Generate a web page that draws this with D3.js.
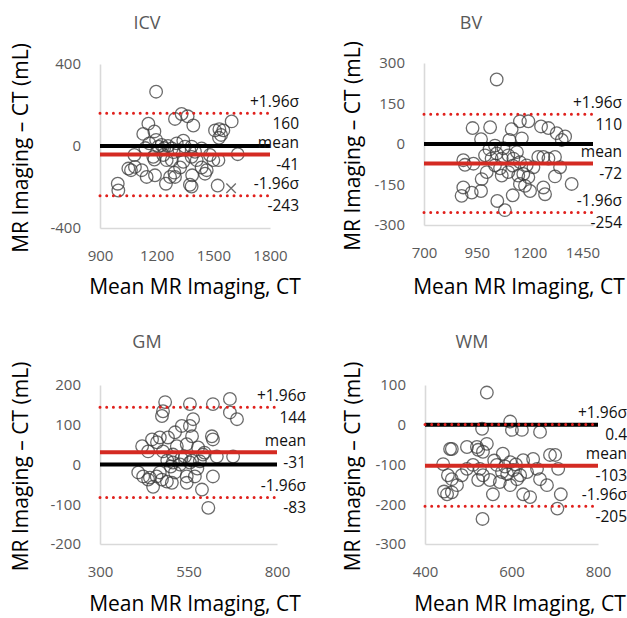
<!DOCTYPE html>
<html>
<head>
<meta charset="utf-8">
<script src="https://cdn.jsdelivr.net/npm/d3@7"></script>
<style>
  body { margin: 0; background: #fff; }
  svg { display: block; font-family: "Open Sans", sans-serif; }
</style>
</head>
<body>
<div id="chart"></div>
<script>
// Bland-Altman data: [mean of MR + CT, MR - CT] in mL
const icvPoints = [[1197,265],[1297,132],[1332,156],[1364,145],[1394,100],[1156,109],[1129,59],[1188,71],[1197,30],[1161,13],
  [1182,-53],[1188,-66],[1082,-44],[1050,-110],[1064,-118],[1121,-118],[1147,-151],[1191,-143],[1249,-184],[1271,-151],
  [1294,-130],[1297,-151],[1280,-69],[1306,13],[1341,26],[1350,-3],[1385,-3],[1403,-28],[1385,-53],[1412,-69],
  [1388,-143],[1385,-198],[1376,-189],[1324,-105],[1341,-77],[1438,-105],[1456,-135],[1482,-44],[1500,-69],[1527,-69],
  [1523,-193],[1509,76],[1532,82],[1553,76],[1541,54],[1597,120],[1629,-40],[994,-184],[997,-217],[1235,-44],
  [1253,-69],[1209,-3],[1226,5],[1280,-12],[1085,-102],[1438,-12],[1465,-118],[1260,0],[1240,-10],[1320,-20],
  [1290,-30],[1140,-10],[1530,40]]
const icvCross = [[1594,-206]]
const bvPoints = [[1044,239],[930,59],[1013,62],[970,18],[1115,55],[1154,84],[1194,84],[1163,21],[1104,15],[1254,65],
  [1289,59],[1328,40],[1368,28],[1352,15],[1076,-16],[1036,-6],[886,-60],[894,-77],[934,-73],[989,-42],
  [1020,-54],[1044,-35],[1068,-54],[1099,-42],[1123,-54],[1154,-67],[1186,-79],[1170,-111],[1146,-117],[1154,-148],
  [1178,-155],[1194,-123],[1241,-48],[1265,-48],[1289,-54],[1320,-48],[1344,-86],[1320,-120],[1399,-148],[1265,-161],
  [1273,-186],[1202,-174],[1120,-190],[1047,-211],[1083,-245],[970,-174],[926,-180],[886,-161],[878,-192],[973,-130],
  [997,-104],[1068,-117],[1099,-104],[1036,-79],[1218,-86],[1120,-80],[1060,-90],[1140,-30],[1010,-20]]
const gmPoints = [[484,157],[554,152],[619,152],[667,165],[478,134],[475,122],[667,131],[687,114],[563,114],[554,97],
  [531,97],[512,81],[492,68],[469,68],[447,63],[461,56],[560,71],[577,43],[616,71],[619,63],
  [517,46],[545,51],[419,46],[436,33],[478,33],[506,25],[540,20],[591,25],[630,20],[676,20],
  [506,5],[526,0],[554,5],[582,8],[408,-20],[422,-30],[436,-38],[450,-56],[469,-20],[489,-43],
  [512,-20],[545,-30],[568,-30],[545,-46],[588,-63],[619,-30],[606,-109],[530,15],[560,10],[500,-5],
  [575,-10],[490,10],[460,-30],[595,30],[441,-33],[475,-38],[503,-46]]
const wmPoints = [[543,81],[532,-10],[597,8],[601,-13],[624,-13],[666,-18],[458,-61],[462,-61],[497,-56],[520,-56],
  [523,-63],[543,-48],[534,-68],[442,-99],[453,-127],[462,-137],[444,-168],[451,-175],[462,-170],[474,-152],
  [485,-127],[497,-111],[511,-101],[527,-111],[534,-127],[523,-139],[550,-139],[557,-175],[566,-101],[578,-119],
  [580,-73],[597,-94],[590,-124],[604,-114],[613,-137],[620,-127],[627,-89],[636,-119],[627,-175],[643,-182],
  [650,-86],[659,-111],[666,-137],[682,-152],[689,-76],[701,-76],[708,-111],[714,-175],[706,-211],[533,-237],
  [573,-144],[597,-152],[560,-90],[585,-105],[610,-100]]

// reference lines: upper limit, mean, lower limit
const icvLines = [160, -41, -243]
const bvLines = [110, -72, -254]
const gmLines = [144, 31, -83]
const wmLines = [0.4, -103, -205]
const icvLabels = ["+1.96σ", "160", "mean", "-41", "-1.96σ", "-243"]
const bvLabels = ["+1.96σ", "110", "mean", "-72", "-1.96σ", "-254"]
const gmLabels = ["+1.96σ", "144", "mean", "-31", "-1.96σ", "-83"]
const wmLabels = ["+1.96σ", "0.4", "mean", "-103", "-1.96σ", "-205"]

// axis ticks
const icvXTicks = [900, 1200, 1500, 1800]
const icvYTicks = [-400, 0, 400]
const bvXTicks = [700, 950, 1200, 1450]
const bvYTicks = [-300, -150, 0, 150, 300]
const gmXTicks = [300, 550, 800]
const gmYTicks = [-200, -100, 0, 100, 200]
const wmXTicks = [400, 600, 800]
const wmYTicks = [-300, -200, -100, 0, 100]

const xTitle = "Mean MR Imaging, CT"
const yTitle = "MR Imaging – CT (mL)"

const panels = [
  {title: "ICV", points: icvPoints, cross: icvCross, lines: icvLines, labels: icvLabels,
   xDomain: [900, 1800], yDomain: [-400, 400], xTicks: icvXTicks, yTicks: icvYTicks,
   box: {left: 100, right: 270, top: 64, bottom: 228}, titleY: 29, xTitleY: 294, yTitleX: 28},
  {title: "BV", points: bvPoints, cross: [], lines: bvLines, labels: bvLabels,
   xDomain: [700, 1500], yDomain: [-300, 300], xTicks: bvXTicks, yTicks: bvYTicks,
   box: {left: 424, right: 593, top: 63, bottom: 225}, titleY: 29, xTitleY: 294, yTitleX: 360},
  {title: "GM", points: gmPoints, cross: [], lines: gmLines, labels: gmLabels,
   xDomain: [300, 800], yDomain: [-200, 200], xTicks: gmXTicks, yTicks: gmYTicks,
   box: {left: 100, right: 277, top: 385, bottom: 544}, titleY: 348, xTitleY: 611, yTitleX: 28},
  {title: "WM", points: wmPoints, cross: [], lines: wmLines, labels: wmLabels,
   xDomain: [400, 800], yDomain: [-300, 100], xTicks: wmXTicks, yTicks: wmYTicks,
   box: {left: 425, right: 598, top: 385, bottom: 544}, titleY: 348, xTitleY: 611, yTitleX: 360}
]

const svg = d3.select("#chart").append("svg")
  .attr("width", 627)
  .attr("height", 618)

function drawPanel(p) {
  const g = svg.append("g")
  const b = p.box
  const x = d3.scaleLinear().domain(p.xDomain).range([b.left, b.right])
  const y = d3.scaleLinear().domain(p.yDomain).range([b.bottom, b.top])

  //axes
  const xAxis = g.append("g")
    .attr("transform", `translate(0,${b.bottom})`)
    .call(d3.axisBottom(x).tickValues(p.xTicks).tickSize(0).tickPadding(22).tickFormat(d3.format("d")))
  const yAxis = g.append("g")
    .attr("transform", `translate(${b.left},0)`)
    .call(d3.axisLeft(y).tickValues(p.yTicks).tickSize(0).tickPadding(19).tickFormat(d => d < 0 ? "-" + Math.abs(d) : d))
  for (const a of [xAxis, yAxis]) {
    a.select(".domain").attr("stroke", "#d9d9d9").attr("stroke-width", 1.6)
    a.selectAll("text")
      .attr("fill", "#595959")
      .attr("font-size", "15px")
      .attr("font-family", "Open Sans, sans-serif")
  }

  //points
  g.append("g").selectAll("circle")
    .data(p.points)
    .join("circle")
    .attr("cx", d => x(d[0]))
    .attr("cy", d => y(d[1]))
    .attr("r", 6.3)
    .attr("fill", "none")
    .attr("stroke", "#3a3a3a")
    .attr("stroke-opacity", 0.75)
    .attr("stroke-width", 1.3)
  g.append("g").selectAll("path")
    .data(p.cross)
    .join("path")
    .attr("transform", d => `translate(${x(d[0])},${y(d[1])})`)
    .attr("d", d3.symbol(d3.symbolTimes, 60))
    .attr("fill", "none")
    .attr("stroke", "#3a3a3a")
    .attr("stroke-opacity", 0.75)
    .attr("stroke-width", 1.3)

  //zero line, mean, limits
  const [upper, mean, lower] = p.lines
  const hline = (v, color, width, dash) => g.append("line")
    .attr("x1", b.left).attr("x2", b.right)
    .attr("y1", y(v)).attr("y2", y(v))
    .attr("stroke", color)
    .attr("stroke-width", width)
    .attr("stroke-dasharray", dash)
    .attr("stroke-linecap", dash ? "round" : "butt")
  hline(0, "#000", 4, null)
  hline(mean, "#d42a22", 4, null)
  hline(upper, "#e0201c", 3, "0 6.7")
  hline(lower, "#e0201c", 3, "0 6.7")

  //line labels
  const labelRows = []
  p.lines.forEach((v, i) => {
    labelRows.push({text: p.labels[2 * i], y: y(v) - 12})
    labelRows.push({text: p.labels[2 * i + 1], y: y(v) + 10})
  })
  g.append("g").selectAll("text")
    .data(labelRows)
    .join("text")
    .attr("x", b.right + 29)
    .attr("y", d => d.y)
    .attr("dy", "0.35em")
    .attr("text-anchor", "end")
    .attr("font-size", "15.5px")
    .attr("fill", "#111")
    .text(d => d.text)

  //titles
  g.append("text")
    .attr("x", b.left + 47)
    .attr("y", p.titleY)
    .attr("text-anchor", "middle")
    .attr("font-size", "18px")
    .attr("fill", "#595959")
    .text(p.title)
  g.append("text")
    .attr("x", b.left + 95)
    .attr("y", p.xTitleY)
    .attr("text-anchor", "middle")
    .attr("font-size", "21px")
    .attr("fill", "#000")
    .text(xTitle)
  g.append("text")
    .attr("transform", `translate(${p.yTitleX},${(b.top + b.bottom) / 2 + 2}) rotate(-90)`)
    .attr("text-anchor", "middle")
    .attr("font-size", "21px")
    .attr("fill", "#000")
    .text(yTitle)
}

panels.forEach(drawPanel)
</script>
</body>
</html>
